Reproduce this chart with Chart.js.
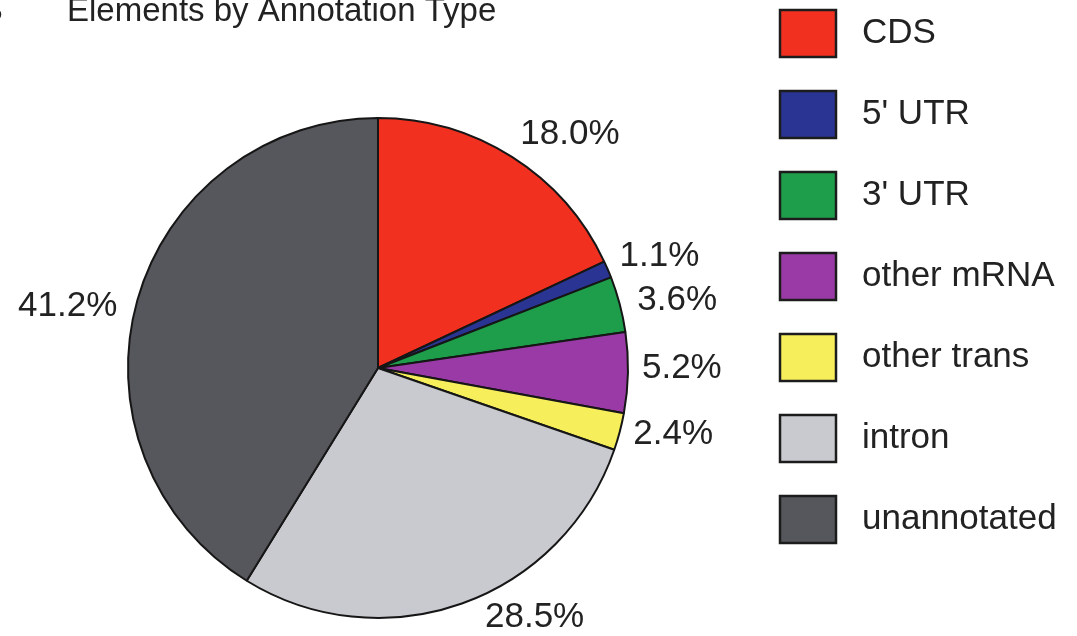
<!DOCTYPE html>
<html>
<head>
<meta charset="utf-8">
<script src="https://cdn.jsdelivr.net/npm/chart.js@4/dist/chart.umd.min.js"></script>
<style>
  html, body { margin: 0; padding: 0; background: #fff; }
  #wrap { width: 1077px; height: 636px; position: relative; }
</style>
</head>
<body>
<div id="wrap"><canvas id="pie" width="1077" height="636"></canvas></div>
<script>
let labels = ['CDS', "5' UTR", "3' UTR", 'other mRNA', 'other trans', 'intron', 'unannotated'];
let shares = [18.0, 1.1, 3.6, 5.2, 2.4, 28.5, 41.2];
let colorHex = ['#f2301f', '#2a3593', '#1e9e4b', '#9a3aa6', '#f6ef5b', '#c9cacf', '#56575c'];

const FONT = '"Liberation Sans", Arial, Helvetica, sans-serif';
const INK = '#222';

// percentage labels: radial gap past the rim, then a small nudge
let labelGap = [25, 15, 15, 15, 12, 15, 20];
let labelNudge = [[-5, -1], [-2, -7], [3, 0], [-1, -5], [2, 0], [18, 0], [-1, 12]];

const pctLabels = {
  id: 'pctLabels',
  afterDatasetsDraw(chart) {
    const c = chart.ctx;
    const meta = chart.getDatasetMeta(0);
    c.save();
    c.font = '35px ' + FONT;
    c.fillStyle = INK;
    c.textBaseline = 'middle';
    meta.data.forEach((arc, i) => {
      const p = arc.getProps(['x', 'y', 'startAngle', 'endAngle', 'outerRadius'], true);
      const mid = (p.startAngle + p.endAngle) / 2;
      const r = p.outerRadius + labelGap[i];
      const x = p.x + Math.cos(mid) * r + labelNudge[i][0];
      const y = p.y + Math.sin(mid) * r + labelNudge[i][1];
      c.textAlign = Math.cos(mid) >= 0 ? 'left' : 'right';
      c.fillText(chart.data.datasets[0].data[i].toFixed(1) + '%', x, y);
    });
    c.restore();
  }
};

// title and legend drawn straight onto the canvas
const sideText = {
  id: 'sideText',
  afterDraw(chart) {
    const c = chart.ctx;
    c.save();
    c.fillStyle = INK;
    c.font = '33px ' + FONT;
    c.textAlign = 'left';
    c.textBaseline = 'alphabetic';
    c.fillText('B', -19, 21);
    c.fillText('Elements by Annotation Type', 67, 21);

    const ds = chart.data.datasets[0];
    c.font = '35px ' + FONT;
    c.textBaseline = 'middle';
    chart.data.labels.forEach((lab, i) => {
      const top = 10 + i * 81;
      c.fillStyle = ds.backgroundColor[i];
      c.fillRect(780, top, 56, 47);
      c.lineWidth = 2.5;
      c.strokeStyle = '#1c1c1c';
      c.strokeRect(780, top, 56, 47);
      c.fillStyle = INK;
      c.fillText(lab, 862, top + 23);
    });
    c.restore();
  }
};

let chart = new Chart(document.getElementById('pie').getContext('2d'), {
  type: 'pie',
  data: {
    labels: labels,
    datasets: [{
      data: shares,
      backgroundColor: colorHex,
      borderColor: '#161616',
      borderWidth: 2
    }]
  },
  options: {
    responsive: false,
    animation: false,
    radius: 250,
    layout: { padding: { left: 0, right: 321, top: 100, bottom: 0 } },
    plugins: {
      legend: { display: false },
      tooltip: { enabled: false }
    }
  },
  plugins: [pctLabels, sideText]
});
</script>
</body>
</html>
